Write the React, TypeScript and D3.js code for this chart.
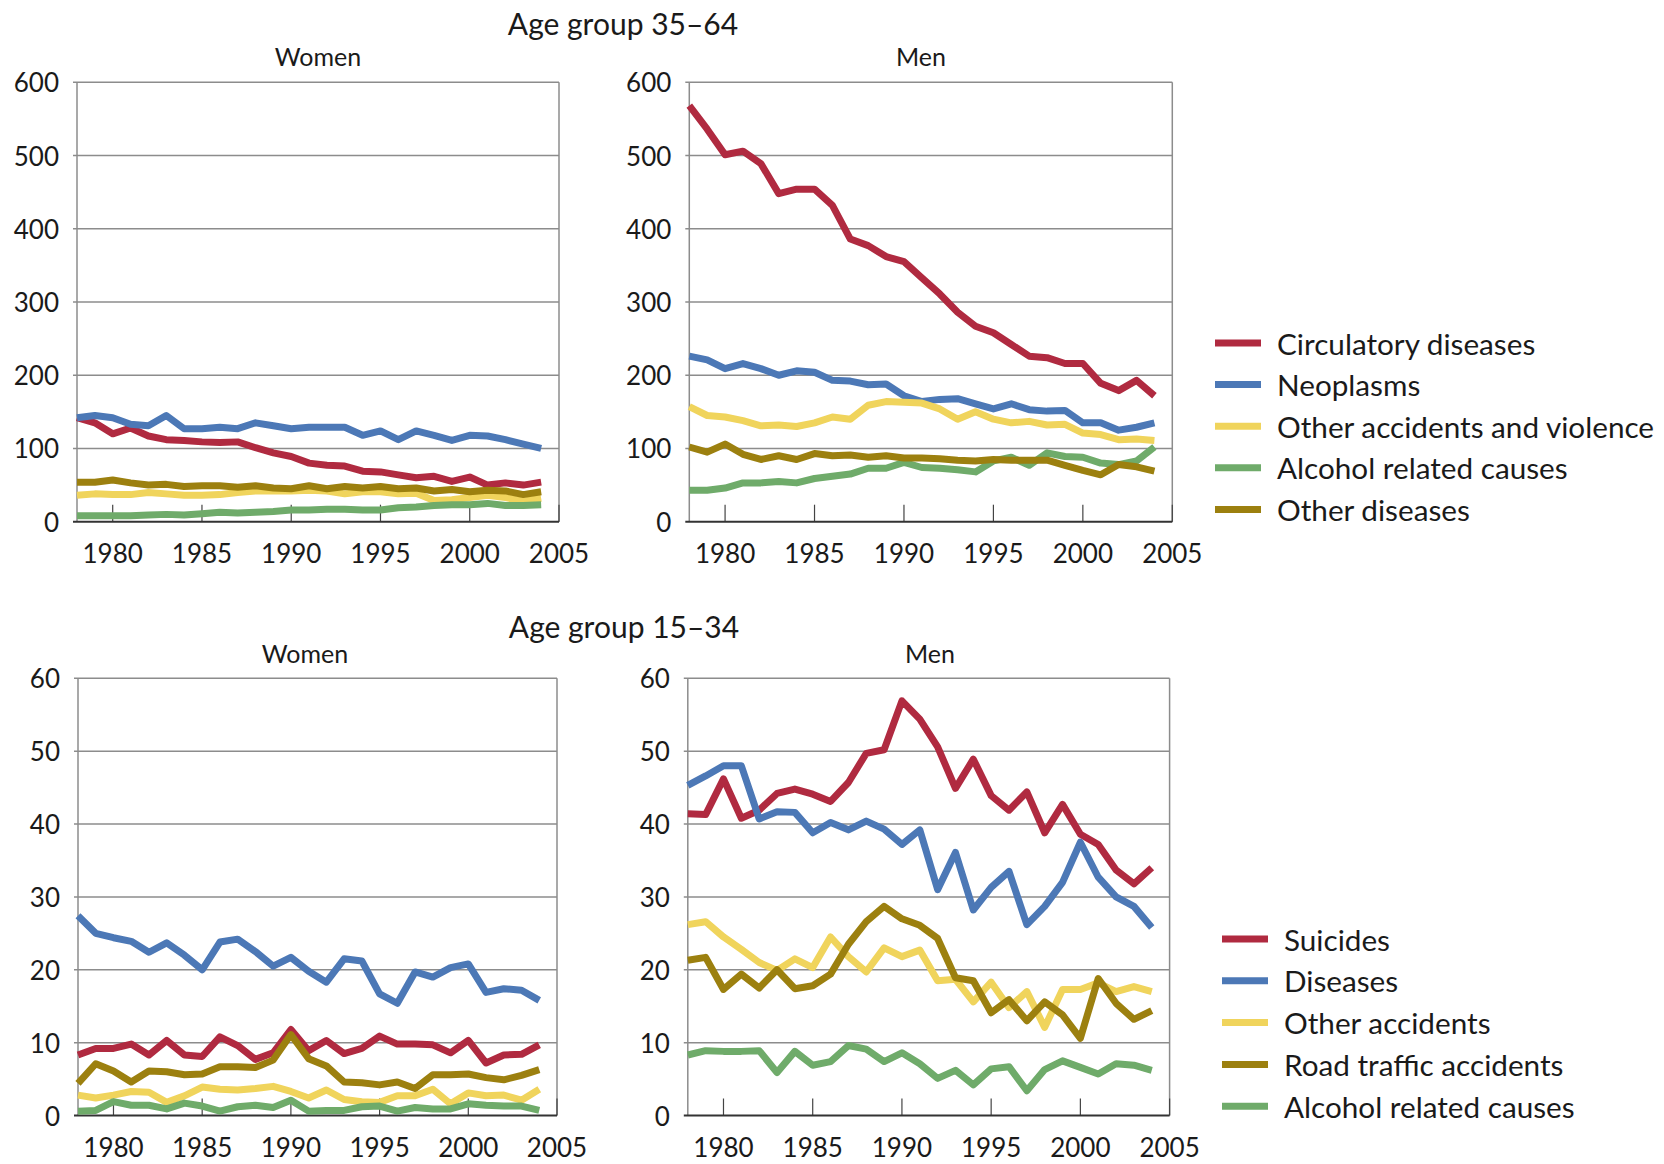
import React from "react";
import * as d3 from "d3";

const years = [1978, 1979, 1980, 1981, 1982, 1983, 1984, 1985, 1986, 1987, 1988, 1989, 1990, 1991, 1992, 1993, 1994, 1995, 1996, 1997, 1998, 1999, 2000, 2001, 2002, 2003, 2004];

// Age group 35-64, Women
const w35Circulatory = [142, 135, 120, 128, 117, 112, 111, 109, 108, 109, 101, 94, 89, 80, 77, 76, 69, 68, 64, 60, 62, 55, 61, 50, 53, 50, 54];
const w35Neoplasms = [142, 145, 142, 133, 131, 145, 127, 127, 129, 127, 135, 131, 127, 129, 129, 129, 118, 124, 112, 124, 118, 111, 118, 117, 112, 106, 100];
const w35OtherAcc = [36, 38, 37, 37, 40, 38, 36, 36, 37, 40, 42, 42, 42, 43, 42, 38, 41, 41, 38, 39, 29, 30, 33, 36, 33, 28, 32];
const w35Alcohol = [8, 8, 8, 8, 9, 10, 9, 11, 13, 12, 13, 14, 16, 16, 17, 17, 16, 16, 19, 20, 22, 23, 23, 25, 22, 22, 23];
const w35OtherDis = [54, 54, 57, 53, 50, 51, 48, 49, 49, 47, 49, 46, 45, 49, 45, 48, 46, 48, 45, 46, 42, 44, 41, 43, 42, 37, 41];

// Age group 35-64, Men
const m35Circulatory = [568, 536, 501, 506, 489, 448, 454, 454, 432, 386, 377, 362, 355, 333, 311, 286, 267, 258, 242, 226, 224, 216, 216, 189, 179, 193, 172];
const m35Neoplasms = [226, 221, 209, 216, 209, 200, 206, 204, 193, 192, 187, 188, 172, 164, 167, 168, 161, 154, 161, 153, 151, 152, 135, 135, 125, 129, 135];
const m35OtherAcc = [157, 145, 143, 138, 131, 132, 130, 135, 143, 140, 159, 164, 163, 162, 154, 140, 150, 140, 135, 137, 132, 133, 121, 119, 112, 113, 111];
const m35Alcohol = [43, 43, 46, 53, 53, 55, 53, 59, 62, 65, 73, 73, 81, 74, 73, 71, 68, 83, 88, 77, 94, 89, 88, 80, 78, 83, 102];
const m35OtherDis = [102, 95, 106, 92, 85, 90, 85, 93, 90, 91, 88, 90, 87, 87, 86, 84, 83, 85, 84, 84, 84, 77, 70, 64, 78, 75, 69];

// Age group 15-34, Women
const w15Suicides = [8.3, 9.2, 9.2, 9.8, 8.3, 10.3, 8.3, 8.1, 10.8, 9.6, 7.7, 8.6, 11.8, 8.9, 10.3, 8.5, 9.2, 10.9, 9.8, 9.8, 9.7, 8.6, 10.3, 7.2, 8.3, 8.4, 9.7];
const w15Diseases = [27.4, 25.0, 24.4, 23.9, 22.4, 23.7, 22.0, 20.0, 23.8, 24.2, 22.5, 20.5, 21.7, 19.8, 18.3, 21.5, 21.2, 16.7, 15.4, 19.7, 19.0, 20.3, 20.8, 16.9, 17.4, 17.2, 15.8];
const w15OtherAcc = [2.8, 2.4, 2.8, 3.3, 3.2, 1.8, 2.7, 3.9, 3.6, 3.5, 3.7, 4.0, 3.3, 2.4, 3.5, 2.2, 1.9, 1.8, 2.7, 2.7, 3.6, 1.6, 3.1, 2.7, 2.8, 2.1, 3.6];
const w15Road = [4.4, 7.1, 6.1, 4.6, 6.1, 6.0, 5.6, 5.7, 6.7, 6.7, 6.6, 7.6, 11.1, 7.8, 6.8, 4.6, 4.5, 4.2, 4.6, 3.7, 5.6, 5.6, 5.7, 5.2, 4.9, 5.5, 6.3];
const w15Alcohol = [0.6, 0.7, 1.9, 1.4, 1.4, 0.9, 1.7, 1.3, 0.6, 1.2, 1.4, 1.1, 2.1, 0.6, 0.7, 0.7, 1.2, 1.3, 0.6, 1.1, 0.9, 0.9, 1.6, 1.4, 1.3, 1.3, 0.7];

// Age group 15-34, Men
const m15Suicides = [41.4, 41.3, 46.2, 40.8, 41.9, 44.2, 44.8, 44.1, 43.1, 45.7, 49.7, 50.2, 56.9, 54.4, 50.6, 44.9, 48.9, 43.9, 41.9, 44.4, 38.8, 42.7, 38.6, 37.2, 33.7, 31.8, 34.0];
const m15Diseases = [45.3, 46.6, 48.0, 48.0, 40.7, 41.7, 41.6, 38.8, 40.2, 39.2, 40.4, 39.3, 37.2, 39.2, 31.0, 36.1, 28.2, 31.3, 33.5, 26.2, 28.7, 32.0, 37.5, 32.7, 30.0, 28.7, 25.8];
const m15OtherAcc = [26.2, 26.6, 24.5, 22.8, 21.0, 19.9, 21.5, 20.3, 24.5, 21.8, 19.7, 23.0, 21.8, 22.7, 18.5, 18.7, 15.6, 18.3, 14.8, 17.0, 12.1, 17.3, 17.3, 18.2, 17.0, 17.7, 17.0];
const m15Road = [21.3, 21.7, 17.3, 19.4, 17.5, 20.0, 17.4, 17.8, 19.4, 23.5, 26.6, 28.7, 27.0, 26.1, 24.3, 18.9, 18.5, 14.1, 15.9, 13.0, 15.6, 13.8, 10.6, 18.8, 15.4, 13.2, 14.4];
const m15Alcohol = [8.3, 8.9, 8.8, 8.8, 8.9, 5.9, 8.8, 6.9, 7.4, 9.6, 9.1, 7.4, 8.6, 7.1, 5.1, 6.2, 4.2, 6.4, 6.7, 3.4, 6.3, 7.5, 6.6, 5.7, 7.1, 6.9, 6.2];

const xTicks = [1980, 1985, 1990, 1995, 2000, 2005];
const yTicksOld = [0, 100, 200, 300, 400, 500, 600];
const yTicksYoung = [0, 10, 20, 30, 40, 50, 60];

const legendOld = ["Circulatory diseases", "Neoplasms", "Other accidents and violence", "Alcohol related causes", "Other diseases"];
const legendYoung = ["Suicides", "Diseases", "Other accidents", "Road traffic accidents", "Alcohol related causes"];

const RED = "#b02a40";
const BLUE = "#4c78b6";
const YELLOW = "#f0d45c";
const GREEN = "#6fab6a";
const OLIVE = "#9c800f";

const colorsOld = [RED, BLUE, YELLOW, GREEN, OLIVE];
const colorsYoung = [RED, BLUE, YELLOW, OLIVE, GREEN];

const FONT = "Lato, 'Noto Sans', sans-serif";
const NUMFONT = "Lato, 'Liberation Sans', sans-serif";

type PanelProps = {
  x0: number; x1: number; y0: number; y1: number;
  yMax: number; yTicks: number[];
  series: number[][]; colors: string[];
  title: string; titleX: number; titleY: number;
};

function Panel(p: PanelProps) {
  const x = d3.scaleLinear().domain([1978, 2005]).range([p.x0, p.x1]);
  const y = d3.scaleLinear().domain([0, p.yMax]).range([p.y1, p.y0]);
  const line = d3.line<number>().x((_, i) => x(years[i])).y((v) => y(v));
  return (
    <g>
      <text x={p.titleX} y={p.titleY} textAnchor="middle" dominantBaseline="central" fontFamily={FONT} fontSize={25} fill="#1a1a1a">{p.title}</text>
      {p.yTicks.map((t) => (
        <g key={"y" + t}>
          {t > 0 && <line x1={p.x0 - 4} x2={p.x1} y1={y(t)} y2={y(t)} stroke="#8c8c8c" strokeWidth={1.5} />}
          <text x={p.x0 - 18} y={y(t)} textAnchor="end" dominantBaseline="central" fontFamily={NUMFONT} fontSize={26} fill="#1a1a1a">{t}</text>
        </g>
      ))}
      <line x1={p.x0} x2={p.x0} y1={p.y0} y2={p.y1} stroke="#8c8c8c" strokeWidth={1.5} />
      <line x1={p.x1} x2={p.x1} y1={p.y0} y2={p.y1} stroke="#8c8c8c" strokeWidth={1.5} />
      {xTicks.map((t) => (
        <g key={"x" + t}>
          <line x1={x(t)} x2={x(t)} y1={p.y1 - 17} y2={p.y1} stroke="#444" strokeWidth={1.2} />
          <text x={x(t)} y={p.y1 + 31} textAnchor="middle" dominantBaseline="central" fontFamily={NUMFONT} fontSize={26} fill="#1a1a1a">{t}</text>
        </g>
      ))}
      <line x1={p.x0 - 4} x2={p.x1} y1={p.y1} y2={p.y1} stroke="#333" strokeWidth={2} />
      {p.series.map((s, i) => (
        <path key={"s" + i} d={line(s) || ""} fill="none" stroke={p.colors[i]} strokeWidth={7} strokeLinejoin="round" strokeLinecap="butt" />
      ))}
    </g>
  );
}

function Legend({ x, y, step, labels, colors }: { x: number; y: number; step: number; labels: string[]; colors: string[] }) {
  return (
    <g>
      {labels.map((l, i) => (
        <g key={l} transform={`translate(${x},${y + i * step})`}>
          <line x1={0} x2={46} y1={0} y2={0} stroke={colors[i]} strokeWidth={7} />
          <text x={62} y={0} dominantBaseline="central" fontFamily={FONT} fontSize={29.7} fill="#1a1a1a">{l}</text>
        </g>
      ))}
    </g>
  );
}

export default function App() {
  return (
    <svg width={1664} height={1164} style={{ position: "absolute", left: 0, top: 0, display: "block", background: "#fff" }}>
      <rect width={1664} height={1164} fill="#fff" />
      <text x={623} y={23} textAnchor="middle" dominantBaseline="central" fontFamily={FONT} fontSize={30} fill="#1a1a1a">Age group 35–64</text>
      <Panel x0={77} x1={559} y0={82.3} y1={521.7} yMax={600} yTicks={yTicksOld}
        series={[w35Circulatory, w35Neoplasms, w35OtherAcc, w35Alcohol, w35OtherDis]} colors={colorsOld}
        title="Women" titleX={318} titleY={56} />
      <Panel x0={689.3} x1={1172.3} y0={82.3} y1={521.7} yMax={600} yTicks={yTicksOld}
        series={[m35Circulatory, m35Neoplasms, m35OtherAcc, m35Alcohol, m35OtherDis]} colors={colorsOld}
        title="Men" titleX={921} titleY={56} />
      <Legend x={1215} y={343} step={41.6} labels={legendOld} colors={colorsOld} />

      <text x={624} y={626} textAnchor="middle" dominantBaseline="central" fontFamily={FONT} fontSize={30} fill="#1a1a1a">Age group 15–34</text>
      <Panel x0={78} x1={557} y0={678.3} y1={1115.5} yMax={60} yTicks={yTicksYoung}
        series={[w15Suicides, w15Diseases, w15OtherAcc, w15Road, w15Alcohol]} colors={colorsYoung}
        title="Women" titleX={305} titleY={653} />
      <Panel x0={687.8} x1={1169.6} y0={678.3} y1={1115.5} yMax={60} yTicks={yTicksYoung}
        series={[m15Suicides, m15Diseases, m15OtherAcc, m15Road, m15Alcohol]} colors={colorsYoung}
        title="Men" titleX={930} titleY={653} />
      <Legend x={1222} y={939} step={41.8} labels={legendYoung} colors={colorsYoung} />
    </svg>
  );
}
